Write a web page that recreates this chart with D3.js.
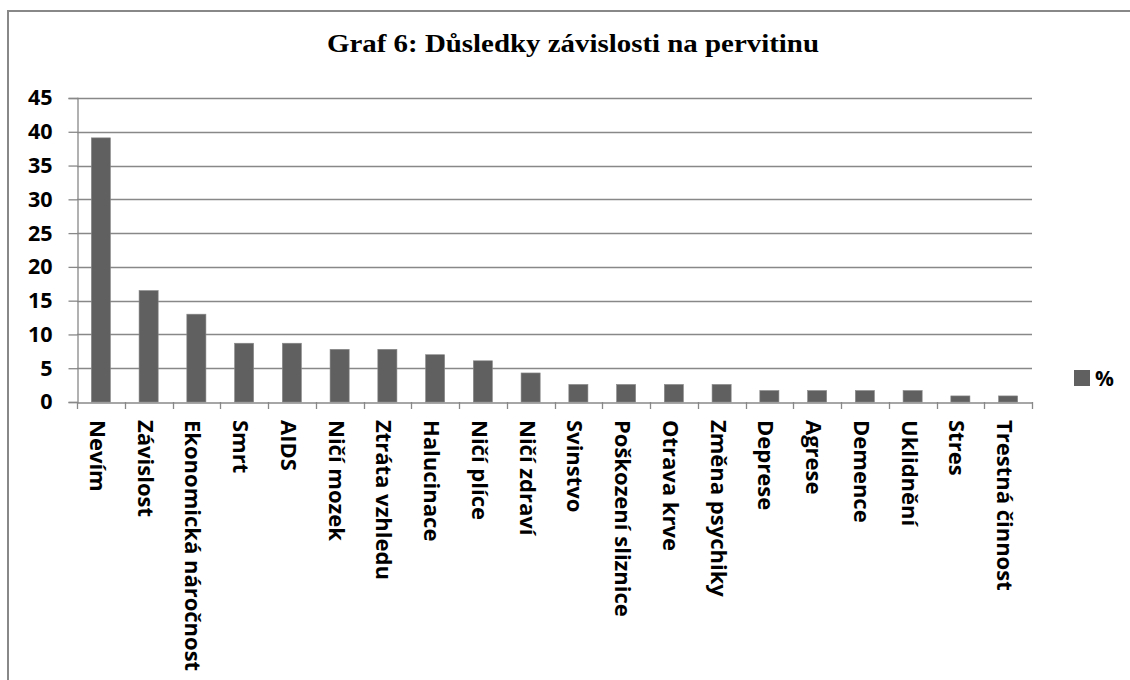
<!DOCTYPE html>
<html><head><meta charset="utf-8">
<script src="https://cdn.jsdelivr.net/npm/d3@7"></script>
<style>body{margin:0;background:#fff}svg{display:block}</style>
</head><body>
<script>
const categories = ["Nevím","Závislost","Ekonomická náročnost","Smrt","AIDS","Ničí mozek","Ztráta vzhledu","Halucinace","Ničí plíce","Ničí zdraví","Svinstvo","Poškození sliznice","Otrava krve","Změna psychiky","Deprese","Agrese","Demence","Uklidnění","Stres","Trestná činnost"];
const values = [39.1,16.5,13.0,8.7,8.7,7.8,7.8,7.0,6.1,4.3,2.6,2.6,2.6,2.6,1.7,1.7,1.7,1.7,0.9,0.9];
const yTicks = [0,5,10,15,20,25,30,35,40,45];
const seriesName = "%";
const title = "Graf 6: Důsledky závislosti na pervitinu";

const W=1130,H=680;
const svg=d3.select("body").append("svg").attr("width",W).attr("height",H);
svg.append("path").attr("d","M8,700 V11 H1140").attr("fill","none").attr("stroke","#888").attr("stroke-width",2);

const L=77,R=1032,T=98,B=402;
const x=d3.scaleBand().domain(categories).range([L,R]).paddingInner(0.6).paddingOuter(0.3);
const xb=d3.scaleBand().domain(categories).range([L,R]);
const y=d3.scaleLinear().domain([0,45]).range([B,T]);
const sans="'Open Sans', Lato, sans-serif";

svg.append("text").attr("x",327).attr("y",52).attr("text-anchor","start")
  .attr("font-family","Liberation Serif, Times New Roman, serif").attr("font-weight","bold").attr("font-size",26)
  .attr("textLength",492).attr("lengthAdjust","spacingAndGlyphs").text(title);

// gridlines
svg.append("g").selectAll("line").data(yTicks.filter(d=>d>0)).join("line")
  .attr("x1",L).attr("x2",R).attr("y1",d=>Math.round(y(d))+0.5).attr("y2",d=>Math.round(y(d))+0.5)
  .attr("stroke","#888").attr("stroke-width",1.3);

// bars
svg.append("g").selectAll("rect").data(values).join("rect")
  .attr("x",(d,i)=>x(categories[i])).attr("width",x.bandwidth())
  .attr("y",d=>y(d)).attr("height",d=>B-y(d))
  .attr("fill","#606060").attr("stroke","#8a8a8a").attr("stroke-width",0.6);

// y axis
const ya=svg.append("g").attr("transform",`translate(${L+0.5},0)`)
  .call(d3.axisLeft(y).tickValues(yTicks).tickSize(9).tickPadding(16));
ya.select(".domain").attr("stroke","#888").attr("stroke-width",1.3);
ya.selectAll(".tick line").attr("stroke","#888").attr("stroke-width",1.3);
ya.selectAll(".tick text").attr("font-family",sans).attr("font-weight","bold").attr("font-size",21.5).attr("fill","#000");

// x axis
const xa=svg.append("g").attr("transform",`translate(0,${B+0.5})`)
  .call(d3.axisBottom(xb).tickSize(0).tickFormat(""));
xa.select(".domain").attr("stroke","#888").attr("stroke-width",1.3);
svg.append("g").selectAll("line").data(d3.range(categories.length+1)).join("line")
  .attr("x1",i=>Math.round(L+i*xb.step())+0.5).attr("x2",i=>Math.round(L+i*xb.step())+0.5)
  .attr("y1",B).attr("y2",B+7).attr("stroke","#888").attr("stroke-width",1.3);

svg.append("g").selectAll("text").data(categories).join("text")
  .attr("transform",d=>`translate(${xb(d)+xb.bandwidth()/2-11},${B+18}) rotate(90)`)
  .attr("text-anchor","start")
  .attr("font-family",sans).attr("font-weight","bold").attr("font-size",22).attr("fill","#000")
  .text(d=>d);

// legend
svg.append("rect").attr("x",1074).attr("y",370).attr("width",16).attr("height",16).attr("fill","#606060");
svg.append("text").attr("x",1095).attr("y",386).attr("font-family",sans).attr("font-weight","bold").attr("font-size",21).text(seriesName);
</script>
</body></html>
